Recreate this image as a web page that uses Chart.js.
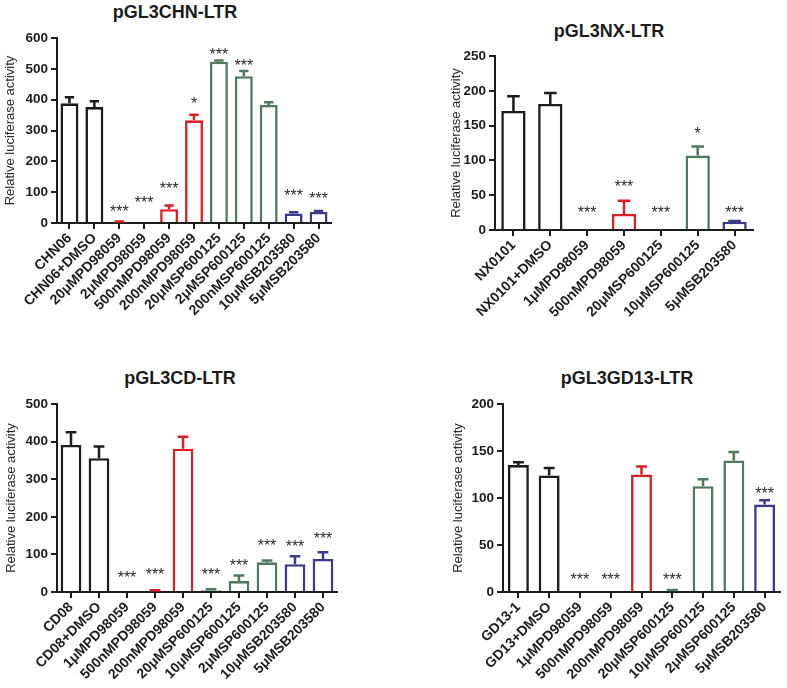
<!DOCTYPE html>
<html lang="en">
<head>
  <meta charset="UTF-8" />
  <title>Luciferase activity</title>
  <script src="https://cdn.jsdelivr.net/npm/chart.js"></script>
  <style>
    body {
      margin: 0;
      background: white;
      width: 787px;
      height: 688px;
      position: relative;
      overflow: hidden;
      font-family: 'Liberation Sans', Arial, sans-serif;
    }
    .panel {
      position: absolute;
    }
    .title {
      position: absolute;
      width: 240px;
      margin-left: -120px;
      text-align: center;
      font-weight: bold;
      font-size: 18px;
      line-height: 20px;
      color: #1c1c1c;
    }
  </style>
</head>
<body>

  <div class="title" style="left:175px; top:2px;">pGL3CHN-LTR</div>
  <div class="title" style="left:609px; top:21px;">pGL3NX-LTR</div>
  <div class="title" style="left:180px; top:368px;">pGL3CD-LTR</div>
  <div class="title" style="left:627px; top:368px;">pGL3GD13-LTR</div>

  <div class="panel" style="left:0px; top:0px; width:345px; height:330px;"><canvas id="chartA"></canvas></div>
  <div class="panel" style="left:440px; top:0px; width:323px; height:330px;"><canvas id="chartB"></canvas></div>
  <div class="panel" style="left:0px; top:366px; width:345px; height:322px;"><canvas id="chartC"></canvas></div>
  <div class="panel" style="left:448px; top:366px; width:339px; height:322px;"><canvas id="chartD"></canvas></div>

<script>
  // ---- data ----
  const labelsA = ["CHN06", "CHN06+DMSO", "20μMPD98059", "2μMPD98059", "500nMPD98059", "200nMPD98059",
                   "20μMSP600125", "2μMSP600125", "200nMSP600125", "10μMSB203580", "5μMSB203580"];
  const valuesA = [388, 376, 3, 0, 45, 333, 523, 476, 383, 31, 36];
  const errorsA = [20, 19, 2, 0, 12, 18, 4, 17, 9, 4, 3];
  const groupsA = ["ctrl", "ctrl", "PD", "PD", "PD", "PD", "SP", "SP", "SP", "SB", "SB"];
  const signifA = ["", "", "***", "***", "***", "*", "***", "***", "", "***", "***"];
  const starAtA = [null, null, 49, 79, 124, 398, 557, 524, null, 100, 90];

  const labelsB = ["NX0101", "NX0101+DMSO", "1μMPD98059", "500nMPD98059", "20μMSP600125", "10μMSP600125", "5μMSB203580"];
  const valuesB = [171, 181, 0, 23, 0, 107, 12];
  const errorsB = [21, 16, 0, 19, 0, 13, 1];
  const groupsB = ["ctrl", "ctrl", "PD", "PD", "SP", "SP", "SB"];
  const signifB = ["", "", "***", "***", "***", "*", "***"];
  const starAtB = [null, null, 30, 67, 30, 144, 30];

  const labelsC = ["CD08", "CD08+DMSO", "1μMPD98059", "500nMPD98059", "200nMPD98059",
                   "20μMSP600125", "10μMSP600125", "2μMSP600125", "10μMSB203580", "5μMSB203580"];
  const valuesC = [391, 356, 0, 3.6, 381, 4.4, 29, 79, 74, 88];
  const errorsC = [34, 31, 0, 1, 32, 3, 15, 5, 21, 18];
  const groupsC = ["ctrl", "ctrl", "PD", "PD", "PD", "SP", "SP", "SP", "SB", "SB"];
  const signifC = ["", "", "***", "***", "", "***", "***", "***", "***", "***"];
  const starAtC = [null, null, 49, 56, null, 56, 80, 133, 131, 151];

  const labelsD = ["GD13-1", "GD13+DMSO", "1μMPD98059", "500nMPD98059", "200nMPD98059",
                   "20μMSP600125", "10μMSP600125", "2μMSP600125", "5μMSB203580"];
  const valuesD = [135, 124, 0, 0, 125, 1, 112.5, 140, 93];
  const errorsD = [3, 8, 0, 0, 8.5, 1, 7.5, 9, 4.5];
  const groupsD = ["ctrl", "ctrl", "PD", "PD", "PD", "SP", "SP", "SP", "SB"];
  const signifD = ["", "", "***", "***", "", "***", "", "", "***"];
  const starAtD = [null, null, 17, 17, null, 17, null, null, 108.5];

  const groupColors = { ctrl: "#1c1c1c", PD: "#dc1f26", SP: "#4f7a5c", SB: "#3d3a8c" };
  const fontFamily = "'Liberation Sans', Arial, sans-serif";
  const ink = "#1c1c1c";

  // upper error bars, Prism style
  const errorBarPlugin = {
    id: "errorBars",
    afterDatasetsDraw(chart) {
      const errs = chart.options.plugins.errorBars.errors;
      const cols = chart.data.datasets[0].borderColor;
      const yScale = chart.scales.y;
      const ctx = chart.ctx;
      chart.getDatasetMeta(0).data.forEach((bar, i) => {
        if (!errs[i]) return;
        const v = chart.data.datasets[0].data[i];
        const yTop = yScale.getPixelForValue(v + errs[i]);
        const half = bar.width * 0.26;
        ctx.save();
        ctx.strokeStyle = cols[i];
        ctx.lineWidth = 2.5;
        ctx.beginPath();
        ctx.moveTo(bar.x, bar.y);
        ctx.lineTo(bar.x, yTop);
        ctx.moveTo(bar.x - half, yTop);
        ctx.lineTo(bar.x + half, yTop);
        ctx.stroke();
        ctx.restore();
      });
    }
  };

  // significance asterisks
  const starPlugin = {
    id: "stars",
    afterDatasetsDraw(chart) {
      const o = chart.options.plugins.stars;
      const yScale = chart.scales.y;
      const ctx = chart.ctx;
      const size = 16;
      ctx.save();
      ctx.fillStyle = "#2a2a2a";
      ctx.font = size + "px " + fontFamily;
      ctx.textAlign = "center";
      ctx.textBaseline = "alphabetic";
      chart.getDatasetMeta(0).data.forEach((bar, i) => {
        if (!o.marks[i]) return;
        const y = yScale.getPixelForValue(o.levels[i]);
        ctx.fillText(o.marks[i], bar.x, y + size * 0.57);
      });
      ctx.restore();
    }
  };

  function makePanel(id, labels, values, errors, groups, marks, levels, yMax, yStep, lay) {
    return new Chart(document.getElementById(id), {
      type: "bar",
      data: {
        labels: labels,
        datasets: [{
          data: values,
          backgroundColor: "white",
          borderColor: groups.map(g => groupColors[g]),
          borderWidth: 2.6,
          barPercentage: lay.barPct,
          categoryPercentage: 1
        }]
      },
      options: {
        responsive: true,
        maintainAspectRatio: false,
        animation: false,
        layout: { padding: { left: 0, right: lay.padRight, top: lay.padTop, bottom: 0 } },
        plugins: {
          legend: { display: false },
          tooltip: { enabled: false },
          title: { display: false },
          errorBars: { errors: errors },
          stars: { marks: marks, levels: levels }
        },
        scales: {
          x: {
            offset: true,
            grid: { display: true, offset: false, drawOnChartArea: false, tickLength: 6, color: ink, lineWidth: 2 },
            border: { display: true, color: ink, width: 2 },
            ticks: {
              autoSkip: false, minRotation: 45, maxRotation: 45, padding: 1,
              color: ink, font: { family: fontFamily, size: 14, weight: "bold" }
            },
            afterFit: s => { s.height = lay.xHeight; }
          },
          y: {
            min: 0,
            max: yMax,
            grid: { display: true, drawOnChartArea: false, tickLength: 6, color: ink, lineWidth: 2 },
            border: { display: true, color: ink, width: 2 },
            ticks: {
              stepSize: yStep, padding: 3,
              color: ink, font: { family: fontFamily, size: 13.5, weight: "bold" }
            },
            title: {
              display: true,
              text: "Relative luciferase activity",
              color: "#2a2a2a",
              font: { family: fontFamily, size: 13 },
              padding: { top: lay.yTitlePad, bottom: 0 }
            },
            afterFit: s => { s.width = lay.yWidth; }
          }
        }
      },
      plugins: [errorBarPlugin, starPlugin]
    });
  }

  makePanel("chartA", labelsA, valuesA, errorsA, groupsA, signifA, starAtA, 600, 100,
    { padRight: 14, padTop: 38, xHeight: 107, yWidth: 57, yTitlePad: 2.5, barPct: 0.72 });
  makePanel("chartB", labelsB, valuesB, errorsB, groupsB, signifB, starAtB, 250, 50,
    { padRight: 10, padTop: 56, xHeight: 100, yWidth: 55, yTitlePad: 9, barPct: 0.66 });
  makePanel("chartC", labelsC, valuesC, errorsC, groupsC, signifC, starAtC, 500, 100,
    { padRight: 8, padTop: 38, xHeight: 96, yWidth: 57, yTitlePad: 4, barPct: 0.74 });
  makePanel("chartD", labelsD, valuesD, errorsD, groupsD, signifD, starAtD, 200, 50,
    { padRight: 7, padTop: 38, xHeight: 96, yWidth: 55, yTitlePad: 2.5, barPct: 0.68 });
</script>

</body>
</html>
